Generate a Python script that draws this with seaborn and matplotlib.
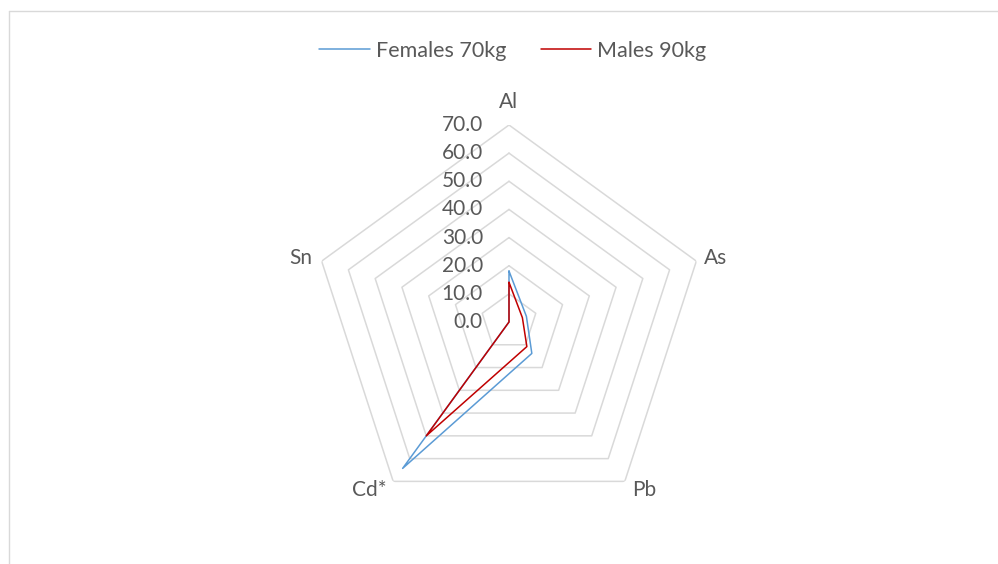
import numpy as np
import pandas as pd
import matplotlib
matplotlib.use("Agg")
import matplotlib.pyplot as plt
from matplotlib.lines import Line2D
import seaborn as sns

# Estimated daily intake per element (radar spokes, clockwise from top)
elements = ["Al", "As", "Pb", "Cd*", "Sn"]
females_70kg = [18.1, 6.5, 13.8, 64.3, 0.0]
males_90kg = [14.1, 5.0, 10.8, 50.0, 0.0]
series_names = ["Females 70kg", "Males 90kg"]
ring_levels = [0, 10, 20, 30, 40, 50, 60, 70]
ring_labels = ["0.0", "10.0", "20.0", "30.0", "40.0", "50.0", "60.0", "70.0"]

sns.set_theme(style="white")
plt.rcParams["font.family"] = ["Lato", "DejaVu Sans"]

TEXT = "#595959"
GRID = "#d9d9d9"
COLORS = {"Females 70kg": "#5B9BD5", "Males 90kg": "#C00000"}
FS = 15

n = len(elements)
theta = np.linspace(0, 2 * np.pi, n, endpoint=False)
theta_closed = np.append(theta, 2 * np.pi)

rows = []
for name, vals in zip(series_names, [females_70kg, males_90kg]):
    closed = list(vals) + [vals[0]]
    for t, v in zip(theta_closed, closed):
        rows.append({"theta": t, "value": v, "series": name})
df = pd.DataFrame(rows)

fig = plt.figure(figsize=(9.98, 5.64), dpi=100)
ax = fig.add_axes([312 / 998, 45 / 564, 394 / 998, 394 / 564], projection="polar")
ax.set_theta_zero_location("N")
ax.set_theta_direction(-1)
ax.set_ylim(0, 70)
ax.grid(False)
ax.spines["polar"].set_visible(False)
ax.set_xticks([])
ax.set_yticks([])
ax.patch.set_alpha(0)

# Pentagon rings
for lvl in ring_levels[1:]:
    ax.plot(theta_closed, [lvl] * (n + 1), color=GRID, lw=1.1, zorder=1)

sns.lineplot(data=df, x="theta", y="value", hue="series", hue_order=series_names,
             palette=COLORS, sort=False, estimator=None, lw=1.1, legend=False,
             ax=ax, zorder=3)
ax.set_xlabel("")
ax.set_ylabel("")

# Radial value labels along the top spoke
for lvl, lab in zip(ring_levels, ring_labels):
    ax.annotate(lab, xy=(0, lvl), xytext=(-26, 0), textcoords="offset pixels",
                ha="right", va="center", fontsize=FS, color=TEXT,
                annotation_clip=False)

# Category labels around the outer ring
offsets = [(0, 23), (19, 3), (19, -9), (-24, -9), (-21, 3)]
for t, name, off in zip(theta, elements, offsets):
    ax.annotate(name, xy=(t, 70), xytext=off, textcoords="offset pixels",
                ha="center", va="center", fontsize=FS, color=TEXT,
                annotation_clip=False)

handles = [Line2D([], [], color=COLORS[s], lw=1.1) for s in series_names]
leg = fig.legend(handles, series_names, loc="center", bbox_to_anchor=(0.514, 1 - 51 / 564),
                 ncol=2, frameon=False, fontsize=15.5, handlelength=2.33,
                 handletextpad=0.28, columnspacing=1.63)
for txt in leg.get_texts():
    txt.set_color(TEXT)

# Chart area frame
x0 = 9 / 998
y0 = 1 - 11 / 564
fig.add_artist(Line2D([x0, x0], [0, y0], transform=fig.transFigure, color=GRID, lw=1.0))
fig.add_artist(Line2D([x0, 1], [y0, y0], transform=fig.transFigure, color=GRID, lw=1.0))

fig.savefig("out.png", dpi=100)
